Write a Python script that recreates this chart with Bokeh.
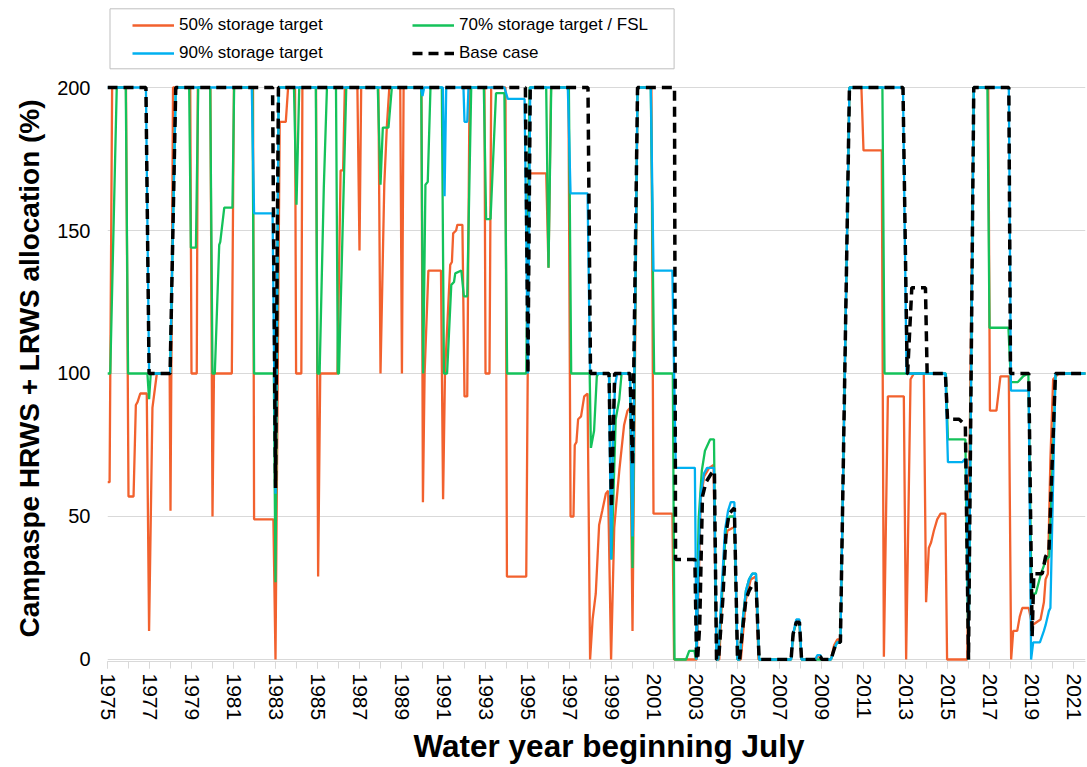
from bokeh.plotting import figure
from bokeh.models import Range1d, FixedTicker, Legend, LegendItem, BoxAnnotation, Title
from bokeh.embed import file_html
from bokeh.resources import INLINE

# ---------------- data (water year, allocation %) ----------------
target50 = [
    (1975.0, 62), (1975.1, 62), (1975.22, 200), (1975.88, 200), (1976.0, 57), (1976.24, 57),
    (1976.35, 89), (1976.43, 90), (1976.56, 93), (1976.87, 93), (1976.98, 10), (1977.14, 88),
    (1977.35, 100), (1977.96, 100), (1978.0, 52), (1978.12, 200), (1978.94, 200), (1979.0, 100),
    (1979.25, 100), (1979.3, 200), (1979.9, 200), (1980.0, 50), (1980.07, 100), (1980.92, 100),
    (1981.02, 200), (1981.93, 200), (1981.98, 49), (1982.9, 49), (1983.0, 0), (1983.2, 188),
    (1983.49, 188), (1983.6, 200), (1983.93, 200), (1983.98, 100), (1984.23, 100), (1984.28, 200),
    (1984.93, 200), (1985.03, 29), (1985.13, 100), (1985.95, 100), (1986.1, 171), (1986.22, 171),
    (1986.3, 200), (1986.9, 200), (1987.0, 143), (1987.08, 200), (1987.9, 200), (1988.0, 100),
    (1988.18, 166), (1988.3, 186), (1988.42, 200), (1988.94, 200), (1989.02, 100), (1989.1, 200),
    (1989.95, 200), (1990.02, 55), (1990.1, 100), (1990.28, 136), (1990.88, 136), (1990.98, 56),
    (1991.07, 100), (1991.32, 138), (1991.4, 139), (1991.46, 149), (1991.6, 150), (1991.66, 152),
    (1991.9, 152), (1992.0, 92), (1992.13, 92), (1992.24, 200), (1992.95, 200), (1993.0, 100),
    (1993.19, 100), (1993.27, 200), (1993.95, 200), (1994.02, 29), (1994.94, 29), (1995.08, 170),
    (1995.89, 170), (1996.0, 137), (1996.12, 200), (1996.95, 200), (1997.05, 50), (1997.19, 50),
    (1997.25, 75), (1997.33, 76), (1997.41, 84), (1997.55, 85), (1997.7, 92), (1997.86, 93),
    (1997.98, 0), (1998.1, 14), (1998.25, 23), (1998.41, 47), (1998.56, 52), (1998.73, 58),
    (1998.84, 59), (1998.98, 0), (1999.13, 46), (1999.21, 53), (1999.37, 66), (1999.6, 82),
    (1999.76, 87), (1999.89, 88), (2000.0, 10), (2000.24, 200), (2000.9, 200), (2001.0, 51),
    (2001.9, 51), (2001.98, 0), (2003.06, 0), (2003.25, 56), (2003.41, 64), (2003.65, 67),
    (2003.86, 68), (2004.0, 0), (2004.13, 0), (2004.37, 39), (2004.52, 45), (2004.76, 46),
    (2004.87, 46), (2005.0, 0), (2005.16, 0), (2005.4, 21), (2005.63, 28), (2005.87, 29),
    (2006.0, 0), (2007.55, 0), (2007.65, 9), (2007.8, 13), (2007.95, 13), (2008.05, 0),
    (2008.7, 0), (2008.8, 1), (2008.95, 1), (2009.02, 0), (2009.45, 0), (2009.6, 5), (2009.75, 7),
    (2009.9, 7), (2010.33, 200), (2010.9, 200), (2011.0, 178), (2011.87, 178), (2011.97, 1),
    (2012.16, 92), (2012.92, 92), (2013.03, 0), (2013.24, 98), (2013.4, 100), (2013.87, 100),
    (2013.98, 20), (2014.11, 39), (2014.22, 41), (2014.35, 45), (2014.51, 49), (2014.67, 51),
    (2014.9, 51), (2014.98, 0), (2015.94, 0), (2016.25, 200), (2016.94, 200), (2017.02, 87),
    (2017.33, 87), (2017.52, 99), (2017.92, 99), (2018.03, 0), (2018.13, 10), (2018.32, 10),
    (2018.44, 15), (2018.56, 18), (2018.87, 18), (2019.03, 12), (2019.43, 14), (2019.59, 20),
    (2019.67, 28), (2019.78, 30), (2019.9, 70), (2020.03, 98), (2020.3, 100), (2021.6, 100),
]

target70 = [
    (1975.0, 100), (1975.13, 100), (1975.44, 200), (1975.87, 200), (1975.98, 100), (1976.9, 100),
    (1976.98, 91), (1977.06, 100), (1977.98, 100), (1978.25, 200), (1978.89, 200), (1978.97, 144),
    (1979.21, 144), (1979.32, 200), (1979.89, 200), (1980.0, 100), (1980.11, 100), (1980.32, 145),
    (1980.37, 146), (1980.56, 158), (1980.95, 158), (1981.03, 200), (1981.9, 200), (1981.98, 100),
    (1982.92, 100), (1983.0, 27), (1983.15, 200), (1983.88, 200), (1984.0, 159), (1984.13, 200),
    (1984.92, 200), (1985.0, 100), (1985.1, 100), (1985.3, 165), (1985.45, 200), (1985.88, 200),
    (1985.97, 100), (1986.02, 100), (1986.37, 200), (1987.87, 200), (1988.0, 166), (1988.11, 186),
    (1988.38, 186), (1988.54, 200), (1989.94, 200), (1990.03, 100), (1990.14, 166), (1990.25, 167),
    (1990.38, 200), (1990.92, 200), (1991.02, 100), (1991.17, 100), (1991.37, 131), (1991.5, 132),
    (1991.56, 135), (1991.85, 136), (1991.97, 127), (1992.13, 127), (1992.32, 200), (1992.92, 200),
    (1993.03, 154), (1993.24, 154), (1993.5, 198), (1993.9, 198), (1994.03, 100), (1994.94, 100),
    (1995.1, 200), (1995.89, 200), (1996.0, 137), (1996.13, 200), (1996.97, 200), (1997.08, 100),
    (1997.96, 100), (1998.02, 74), (1998.17, 80), (1998.3, 99), (1998.38, 100), (1998.9, 100),
    (1999.0, 35), (1999.2, 84), (1999.37, 91), (1999.48, 100), (1999.88, 100), (2000.0, 32),
    (2000.24, 200), (2000.87, 200), (2001.03, 100), (2001.92, 100), (2002.0, 0), (2002.55, 0),
    (2002.7, 3), (2002.95, 3), (2003.02, 0), (2003.15, 49), (2003.3, 66), (2003.45, 73),
    (2003.7, 77), (2003.88, 77), (2004.0, 0), (2004.08, 0), (2004.25, 22), (2004.45, 46),
    (2004.62, 50), (2004.85, 50), (2005.0, 0), (2005.1, 0), (2005.25, 14), (2005.4, 24),
    (2005.55, 28), (2005.7, 30), (2005.88, 30), (2006.03, 0), (2007.55, 0), (2007.65, 9),
    (2007.8, 13), (2007.95, 13), (2008.05, 0), (2009.45, 0), (2009.62, 4), (2009.75, 6),
    (2009.9, 6), (2010.33, 200), (2011.9, 200), (2012.0, 100), (2014.92, 100), (2015.02, 77),
    (2015.85, 77), (2016.0, 0), (2016.25, 200), (2016.9, 200), (2017.0, 116), (2017.9, 116),
    (2018.02, 97), (2018.35, 97), (2018.6, 99), (2018.85, 100), (2019.0, 23), (2019.2, 23),
    (2019.45, 30), (2019.7, 35), (2019.85, 36), (2020.15, 100), (2021.6, 100),
]

target90 = [
    (1975.0, 200), (1976.83, 200), (1976.98, 100), (1977.98, 100), (1978.25, 200), (1981.87, 200),
    (1981.98, 156), (1982.86, 156), (1983.0, 58), (1983.15, 200), (1989.92, 200), (1990.0, 197),
    (1990.08, 200), (1990.97, 200), (1991.05, 162), (1991.13, 200), (1991.95, 200), (1992.0, 188),
    (1992.13, 188), (1992.19, 200), (1993.9, 200), (1994.06, 196), (1994.86, 196), (1995.02, 100),
    (1995.13, 200), (1996.92, 200), (1997.05, 163), (1997.86, 163), (1997.98, 100), (1998.88, 100),
    (1998.98, 35), (1999.08, 80), (1999.17, 96), (1999.27, 100), (1999.88, 100), (2000.0, 43),
    (2000.24, 200), (2000.87, 200), (2001.0, 136), (2001.9, 136), (2001.98, 100), (2002.06, 67),
    (2002.97, 67), (2003.05, 0), (2003.15, 35), (2003.25, 58), (2003.4, 65), (2003.55, 67),
    (2003.88, 67), (2004.0, 0), (2004.08, 0), (2004.25, 25), (2004.4, 45), (2004.55, 52),
    (2004.68, 55), (2004.85, 55), (2005.0, 0), (2005.1, 0), (2005.25, 14), (2005.4, 24),
    (2005.55, 28), (2005.7, 30), (2005.88, 30), (2006.03, 0), (2007.55, 0), (2007.65, 9),
    (2007.8, 14), (2007.95, 14), (2008.05, 0), (2008.7, 0), (2008.8, 1.5), (2008.95, 1.5),
    (2009.02, 0), (2009.45, 0), (2009.62, 4), (2009.75, 6), (2009.9, 6), (2010.33, 200),
    (2012.88, 200), (2013.05, 100), (2014.9, 100), (2015.02, 69), (2015.7, 69), (2015.82, 70),
    (2015.9, 70), (2016.0, 0), (2016.25, 200), (2017.92, 200), (2018.02, 94), (2018.87, 94),
    (2018.98, 0), (2019.08, 6), (2019.4, 6), (2019.59, 10), (2019.67, 12), (2019.83, 17),
    (2019.9, 18), (2020.14, 100), (2021.6, 100),
]

base_case = [
    (1975.0, 200), (1976.83, 200), (1976.98, 100), (1977.98, 100), (1978.25, 200), (1982.86, 200),
    (1983.0, 60), (1983.14, 200), (1994.9, 200), (1995.02, 100), (1995.13, 200), (1997.88, 200),
    (1998.0, 100), (1998.88, 100), (1999.0, 53), (1999.15, 100), (1999.88, 100), (2000.0, 68),
    (2000.24, 200), (2002.0, 200), (2002.05, 35), (2002.97, 35), (2003.05, 0), (2003.1, 0),
    (2003.2, 12), (2003.33, 57), (2003.5, 62), (2003.75, 65), (2003.9, 66), (2004.0, 0),
    (2004.1, 0), (2004.3, 21), (2004.45, 44), (2004.6, 51), (2004.85, 53), (2005.0, 0),
    (2005.1, 0), (2005.25, 11), (2005.4, 21), (2005.55, 24), (2005.7, 26), (2005.88, 27),
    (2006.03, 0), (2007.55, 0), (2007.65, 9), (2007.8, 13), (2007.95, 13), (2008.05, 0),
    (2008.7, 0), (2008.8, 1), (2008.95, 1), (2009.02, 0), (2009.45, 0), (2009.62, 4),
    (2009.75, 6), (2009.9, 6), (2010.33, 200), (2012.88, 200), (2013.08, 100), (2013.1, 100),
    (2013.3, 130), (2013.95, 130), (2014.03, 100), (2014.9, 100), (2015.0, 84), (2015.55, 84),
    (2015.85, 82), (2016.0, 0), (2016.25, 200), (2017.92, 200), (2018.0, 100), (2018.87, 100),
    (2019.03, 8), (2019.11, 30), (2019.51, 30), (2019.67, 36), (2019.83, 38), (2020.14, 100),
    (2021.6, 100),
]

series_names = ["50% storage target", "70% storage target / FSL", "90% storage target", "Base case"]
year_labels = [1975, 1977, 1979, 1981, 1983, 1985, 1987, 1989, 1991, 1993, 1995, 1997, 1999,
               2001, 2003, 2005, 2007, 2009, 2011, 2013, 2015, 2017, 2019, 2021]
y_labels = [0, 50, 100, 150, 200]

# ---------------- figure ----------------
FONT = "Liberation Sans"
p = figure(width=1087, height=767, output_backend="svg", toolbar_location=None,
           x_range=Range1d(1975, 2021.571), y_range=Range1d(-0.7, 230.42),
           min_border_left=107, min_border_right=2, min_border_top=0, min_border_bottom=106)
p.outline_line_color = None
p.background_fill_color = "white"
p.border_fill_color = "white"

def xy(s):
    return [a for a, _ in s], [b for _, b in s]

x50, y50 = xy(target50)
x70, y70 = xy(target70)
x90, y90 = xy(target90)
xb, yb = xy(base_case)

r50 = p.line(x50, y50, line_color="#F2612E", line_width=2.3)
r70 = p.line(x70, y70, line_color="#14C25A", line_width=2.3)
r90 = p.line(x90, y90, line_color="#00B0F0", line_width=2.3)
rb = p.line(xb, yb, line_color="black", line_width=3.5, line_dash="10 6")

# axes
xa = p.xaxis[0]
xa.ticker = FixedTicker(ticks=year_labels, minor_ticks=list(range(1975, 2022)))
xa.major_label_orientation = "vertical"
xa.major_label_text_font = FONT
xa.major_label_text_font_size = "21px"
xa.major_label_text_color = "black"
xa.major_label_standoff = 5
xa.axis_line_color = "#D9D9D9"
xa.major_tick_line_color = "#D9D9D9"
xa.minor_tick_line_color = "#D9D9D9"
xa.major_tick_out = 7
xa.minor_tick_out = 7
xa.major_tick_in = 0
xa.minor_tick_in = 0

ya = p.yaxis[0]
ya.ticker = FixedTicker(ticks=y_labels, minor_ticks=[])
ya.major_label_text_font = FONT
ya.major_label_text_font_size = "20px"
ya.major_label_text_color = "black"
ya.axis_line_color = None
ya.major_tick_line_color = None
ya.minor_tick_line_color = None
ya.major_label_standoff = 11

p.xgrid.grid_line_color = None
p.ygrid.ticker = FixedTicker(ticks=y_labels)
p.ygrid.grid_line_color = "#D9D9D9"
p.ygrid.grid_line_width = 1

# axis titles (positioned along the axes like the original)
p.add_layout(Title(text="Water year beginning July", align="left", offset=306,
                   text_font=FONT, text_font_size="31.5px", text_font_style="bold",
                   text_color="black", standoff=4), "below")
p.add_layout(Title(text="Campaspe HRWS + LRWS allocation (%)", align="left", offset=24,
                   text_font=FONT, text_font_size="28px", text_font_style="bold",
                   text_color="black", standoff=20), "left")

# legend box + two columns of entries
box = BoxAnnotation(left=2.5, right=566.6, bottom=592.7, top=652.7,
                    left_units="screen", right_units="screen", top_units="screen", bottom_units="screen",
                    fill_color="white", fill_alpha=1.0, line_color="#BFBFBF", line_width=1, line_alpha=1.0)
p.add_layout(box)

def make_legend(items, x):
    return Legend(items=items, location=(x, 598), orientation="vertical",
                  padding=0, margin=0, spacing=8, glyph_width=42, glyph_height=20,
                  label_height=20, label_standoff=5,
                  label_text_font=FONT, label_text_font_size="17px", label_text_color="black",
                  border_line_color=None, background_fill_alpha=0)

leg1 = make_legend([LegendItem(label=series_names[0], renderers=[r50]),
                    LegendItem(label=series_names[2], renderers=[r90])], 25)
leg2 = make_legend([LegendItem(label=series_names[1], renderers=[r70]),
                    LegendItem(label=series_names[3], renderers=[rb])], 305)
p.add_layout(leg1, "center")
p.add_layout(leg2, "center")

open("out.html", "w").write(file_html(p, INLINE))
